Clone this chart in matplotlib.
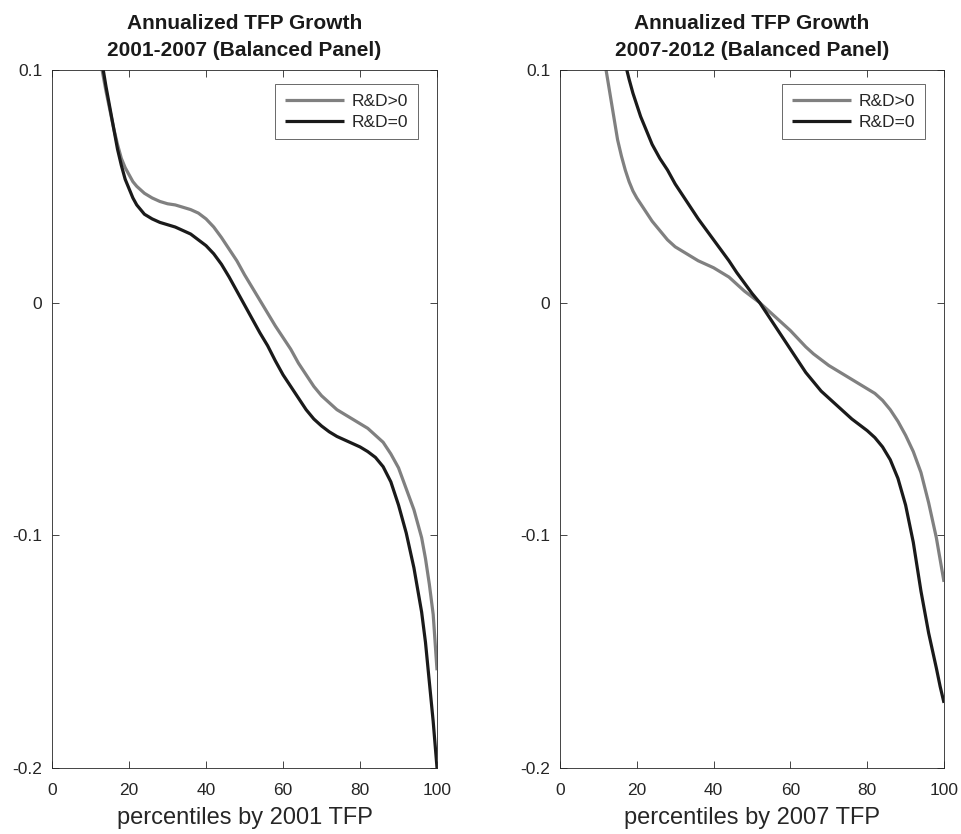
import matplotlib
matplotlib.use("Agg")
import matplotlib.pyplot as plt

plt.rcParams['font.family'] = ['Liberation Sans', 'DejaVu Sans']
plt.rcParams['axes.unicode_minus'] = False

# Panel 1: 2001-2007
x1_pos = [13, 14, 15, 16, 17, 18, 19, 20, 21, 22, 24, 26, 28, 30, 32, 34, 36, 38, 40,
          42, 44, 46, 48, 50, 52, 54, 56, 58, 60, 62, 64, 66, 68, 70, 72, 74, 76, 78,
          80, 82, 84, 86, 88, 90, 92, 94, 96, 97, 98, 99, 100]
y1_pos = [0.100, 0.091, 0.083, 0.075, 0.068, 0.062, 0.058, 0.055, 0.052, 0.050, 0.047,
          0.045, 0.0435, 0.0425, 0.042, 0.041, 0.040, 0.0385, 0.036, 0.0325, 0.028,
          0.023, 0.018, 0.012, 0.0065, 0.001, -0.0045, -0.010, -0.015, -0.020, -0.026,
          -0.031, -0.036, -0.040, -0.043, -0.046, -0.048, -0.050, -0.052, -0.054,
          -0.057, -0.060, -0.065, -0.071, -0.080, -0.089, -0.101, -0.110, -0.121,
          -0.134, -0.158]

x1_zero = [13.3, 14, 15, 16, 17, 18, 19, 20, 21, 22, 23, 24, 26, 28, 30, 32, 34, 36,
           38, 40, 42, 44, 46, 48, 50, 52, 54, 56, 58, 60, 62, 64, 66, 68, 70, 72, 74,
           76, 78, 80, 82, 84, 86, 88, 90, 92, 94, 96, 97, 98, 99, 100]
y1_zero = [0.100, 0.093, 0.084, 0.075, 0.066, 0.059, 0.053, 0.049, 0.045, 0.042, 0.040,
           0.038, 0.036, 0.0345, 0.0335, 0.0325, 0.031, 0.0295, 0.027, 0.0245, 0.021,
           0.0165, 0.011, 0.005, -0.001, -0.007, -0.013, -0.0185, -0.025, -0.031,
           -0.036, -0.041, -0.046, -0.050, -0.053, -0.0555, -0.0575, -0.059, -0.0605,
           -0.062, -0.064, -0.0665, -0.0705, -0.077, -0.087, -0.099, -0.114, -0.133,
           -0.146, -0.163, -0.180, -0.200]

# Panel 2: 2007-2012
x2_pos = [12, 13, 14, 15, 16, 17, 18, 19, 20, 22, 24, 26, 28, 30, 32, 34, 36, 38, 40,
          42, 44, 46, 48, 50, 52, 54, 56, 58, 60, 62, 64, 66, 68, 70, 72, 74, 76, 78,
          80, 82, 84, 86, 88, 90, 92, 94, 96, 98, 100]
y2_pos = [0.100, 0.090, 0.080, 0.070, 0.063, 0.057, 0.052, 0.048, 0.045, 0.040, 0.035,
          0.031, 0.027, 0.024, 0.022, 0.020, 0.018, 0.0165, 0.015, 0.013, 0.011, 0.008,
          0.005, 0.0025, 0.000, -0.003, -0.006, -0.009, -0.012, -0.0155, -0.019, -0.022,
          -0.0245, -0.027, -0.029, -0.031, -0.033, -0.035, -0.037, -0.039, -0.042,
          -0.046, -0.051, -0.057, -0.064, -0.073, -0.086, -0.101, -0.120]

x2_zero = [17.4, 18, 19, 20, 21, 22, 24, 26, 28, 30, 32, 34, 36, 38, 40, 42, 44, 46,
           48, 50, 52, 54, 56, 58, 60, 62, 64, 66, 68, 70, 72, 74, 76, 78, 80, 82, 84,
           86, 88, 90, 92, 94, 96, 98, 99, 100]
y2_zero = [0.100, 0.096, 0.090, 0.085, 0.080, 0.076, 0.068, 0.062, 0.057, 0.051, 0.046,
           0.041, 0.036, 0.0315, 0.027, 0.0225, 0.018, 0.013, 0.0085, 0.004, 0.000,
           -0.005, -0.010, -0.015, -0.020, -0.025, -0.030, -0.034, -0.038, -0.041,
           -0.044, -0.047, -0.050, -0.0525, -0.055, -0.058, -0.062, -0.0675, -0.0755,
           -0.087, -0.103, -0.124, -0.142, -0.157, -0.165, -0.172]

titles = ["Annualized TFP Growth\n2001-2007 (Balanced Panel)",
          "Annualized TFP Growth\n2007-2012 (Balanced Panel)"]
xlabels = ["percentiles by 2001 TFP", "percentiles by 2007 TFP"]
series_labels = ["R&D>0", "R&D=0"]
xticks = [0, 20, 40, 60, 80, 100]
yticks = [-0.2, -0.1, 0, 0.1]
yticklabels = ["-0.2", "-0.1", "0", "0.1"]

gray = (0.5, 0.5, 0.5)
dark = (0.1, 0.1, 0.1)
axcol = '#262626'

fig = plt.figure(figsize=(9.62, 8.34), dpi=100)
positions = [[0.0541, 0.0791, 0.4002, 0.837], [0.5821, 0.0791, 0.3992, 0.837]]
panels = [(x1_pos, y1_pos, x1_zero, y1_zero), (x2_pos, y2_pos, x2_zero, y2_zero)]

for i in range(2):
    ax = fig.add_axes(positions[i])
    xp, yp, xz, yz = panels[i]
    ax.plot(xp, yp, color=gray, lw=2.3, label=series_labels[0],
            solid_capstyle='butt', solid_joinstyle='round')
    ax.plot(xz, yz, color=dark, lw=2.3, label=series_labels[1],
            solid_capstyle='butt', solid_joinstyle='round')
    ax.set_xlim(0, 100)
    ax.set_ylim(-0.2, 0.1)
    ax.set_xticks(xticks)
    ax.set_yticks(yticks)
    ax.set_yticklabels(yticklabels)
    ax.tick_params(direction='in', length=5, width=0.6, top=True, right=True,
                   colors=axcol, labelsize=12.5)
    ax.tick_params(axis='x', pad=11)
    ax.tick_params(axis='y', pad=7)
    for s in ax.spines.values():
        s.set_color(axcol)
        s.set_linewidth(0.6)
    ax.set_title(titles[i], fontsize=15, fontweight='bold', color='#1a1a1a',
                 linespacing=1.55, pad=10)
    ax.set_xlabel(xlabels[i], fontsize=17, color=axcol, labelpad=6)
    leg = ax.legend(loc='upper right', bbox_to_anchor=(0.95, 0.98), fontsize=12.5,
                    handlelength=3.4, frameon=True, fancybox=False, borderaxespad=0,
                    borderpad=0.55, labelspacing=0.35, handletextpad=0.45)
    leg.get_frame().set_edgecolor(axcol)
    leg.get_frame().set_linewidth(0.6)
    for t in leg.get_texts():
        t.set_color(axcol)

fig.savefig("out.png", dpi=100)
